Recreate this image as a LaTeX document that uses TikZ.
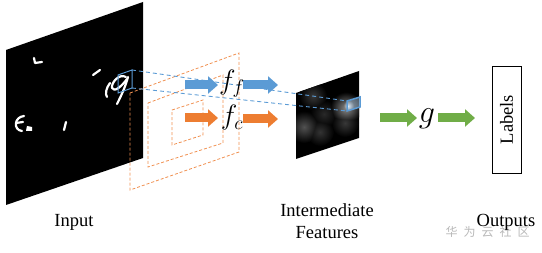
\RequirePackage{fix-cm}
\documentclass[tikz,border=0pt]{standalone}
\usepackage{fontspec}
\setmainfont{Liberation Serif}
\newfontfamily\cjk{Noto Sans CJK SC}
\usetikzlibrary{arrows.meta}
\definecolor{bluec}{HTML}{5B9BD5}
\definecolor{orangec}{HTML}{ED7D31}
\definecolor{greenc}{HTML}{70AD47}
\tikzset{
  fatarrow/.style={line width=9pt, -{Triangle[length=10pt,width=17pt]}},
  orgdash/.style={draw=orangec!85, line width=0.8pt, dash pattern=on 3pt off 2pt},
  bluedash/.style={draw=bluec, line width=0.9pt, dash pattern=on 4pt off 3pt},
  stroke/.style={white, line width=2.2pt, line cap=round, line join=round},
  lbl/.style={font=\fontsize{18.5}{22}\selectfont, inner sep=0pt, align=center},
  mathlbl/.style={font=\fontsize{28}{32}\selectfont, inner sep=0pt}
}
\begin{document}
\begin{tikzpicture}[x=1pt,y=-1pt]
\useasboundingbox (0,0) rectangle (542,253);
% input plane
\fill[black] (6,50) -- (143,2) -- (143,158) -- (6,205) -- cycle;
% strokes on input
\draw[stroke] (34,58) -- (35,63) -- (42,62);
\draw[stroke] (93,75) -- (100,70);
\draw[stroke] (126,77) .. controls (119,73) and (111,83) .. (112,88)
  .. controls (114,93) and (122,86) .. (127,79);
\draw[stroke] (128,77) .. controls (125,88) and (121,96) .. (117,104);
\draw[stroke] (110,83) .. controls (106,88) and (105,94) .. (107,97);
\draw[stroke] (24,116) .. controls (14,117) and (13,130) .. (22,131);
\draw[stroke] (16,123) -- (23,122);
\fill[white] (27,126) -- (32,127) -- (32,131) -- (26,131) -- cycle;
\draw[stroke] (66,122) -- (64,130);
% intermediate feature plane
\fill[black] (296,93) -- (359,71) -- (359,138) -- (296,159) -- cycle;
\begin{scope}[blend mode=lighten]
\clip (296,93) -- (359,71) -- (359,138) -- (296,159) -- cycle;
\shade[inner color=black!78, outer color=black] (313,96) circle (14);
\shade[inner color=black!68, outer color=black] (304,127) circle (16);
\shade[inner color=black!80, outer color=black] (320,132) circle (14);
\shade[inner color=black!84, outer color=black] (324,114) circle (14);
\shade[inner color=black!78, outer color=black] (345,123) circle (14);
\shade[inner color=black!45, outer color=black] (346,108) circle (16);
\shade[inner color=white, outer color=black] (348,106) circle (8);
\end{scope}
% orange dashed parallelograms
\draw[orgdash] (130,93) -- (239,53) -- (239,152) -- (130,190) -- cycle;
\draw[orgdash] (148,103) -- (223,75) -- (223,143) -- (148,167) -- cycle;
\draw[orgdash] (172,110) -- (203,100) -- (203,135) -- (172,145) -- cycle;
% blue boxes
\draw[draw=bluec, line width=1pt] (118,75) -- (132,70) coordinate (ib1) -- (132,88) coordinate (ib2) -- (118,93) -- cycle;
\draw[draw=bluec, line width=1.5pt, fill=bluec!50, fill opacity=0.45] (347,101) coordinate (fb1) -- (360,97) -- (360,107) -- (347,111) coordinate (fb2) -- cycle;
\draw[bluedash] (ib1) -- (fb1);
\draw[bluedash] (ib2) -- (fb2);
% arrow end points
\coordinate (b1s) at (185,85); \coordinate (b1e) at (218,85);
\coordinate (b2s) at (243,85); \coordinate (b2e) at (278,85);
\coordinate (o1s) at (185,118); \coordinate (o1e) at (218,118);
\coordinate (o2s) at (243,119); \coordinate (o2e) at (278,119);
\coordinate (g1s) at (380,118); \coordinate (g1e) at (417,118);
\coordinate (g2s) at (438,118); \coordinate (g2e) at (475,118);
\draw[fatarrow, bluec] (b1s) -- (b1e);
\draw[fatarrow, bluec] (b2s) -- (b2e);
\draw[fatarrow, orangec] (o1s) -- (o1e);
\draw[fatarrow, orangec] (o2s) -- (o2e);
\draw[fatarrow, greenc] (g1s) -- (g1e);
\draw[fatarrow, greenc] (g2s) -- (g2e);
% labels
\node[mathlbl] (ff) at (232,84) {$f_f$};
\node[mathlbl] (fc) at (232,118) {$f_c$};
\node[mathlbl, font=\fontsize{32}{36}\selectfont] (g) at (427,119) {$g$};
\node[draw, line width=0.8pt, minimum width=29pt, minimum height=107pt, inner sep=0pt] (labels) at (506.5,119.5) {\rotatebox{90}{\fontsize{18.5}{22}\selectfont Labels}};
\node[lbl] (input) at (74,222) {Input};
\node[lbl] (inter) at (327,221) {Intermediate\\Features};
\node[text=gray!55, font=\cjk\fontsize{12}{12}\selectfont, inner sep=0pt] (wm) at (487.5,232) {华\hspace{6pt}为\hspace{6pt}云\hspace{6pt}社\hspace{6pt}区};
\node[lbl] (outputs) at (506,222) {Outputs};
\end{tikzpicture}
\end{document}
